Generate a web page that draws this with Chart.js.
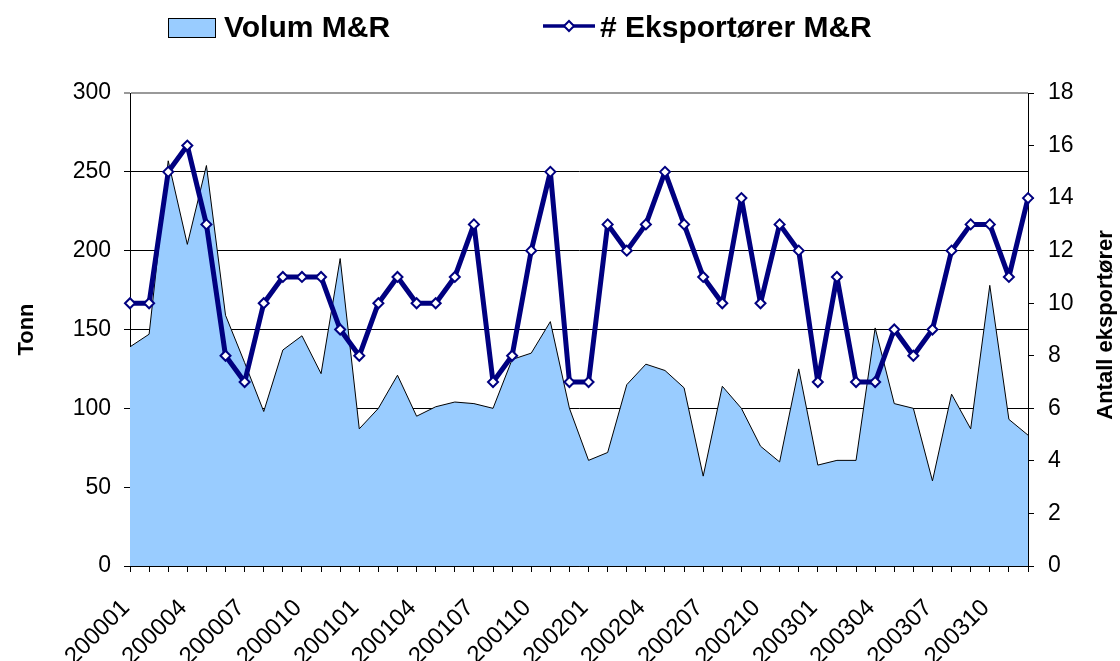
<!DOCTYPE html>
<html><head><meta charset="utf-8">
<script src="https://cdn.jsdelivr.net/npm/chart.js@4.4.1/dist/chart.umd.min.js"></script>
<style>html,body{margin:0;padding:0;background:#fff;overflow:hidden}canvas{display:block}</style>
</head><body>
<canvas id="c" width="1120" height="661"></canvas>
<script>
const categories = [
  '200001','200002','200003','200004','200005','200006','200007','200008','200009','200010','200011','200012',
  '200101','200102','200103','200104','200105','200106','200107','200108','200109','200110','200111','200112',
  '200201','200202','200203','200204','200205','200206','200207','200208','200209','200210','200211','200212',
  '200301','200302','200303','200304','200305','200306','200307','200308','200309','200310','200311','200312'
];
const volum = [
  139,147,257,204,254,159,129,98,137,146,122,195,
  87,100,121,95,101,104,103,100,131,135,155,100,
  67,72,115,128,124,113,57,114,100,76,66,125,
  64,67,67,151,103,100,54,109,87,178,93,83
];
const eksportorer = [
  10,10,15,16,13,8,7,10,11,11,11,9,
  8,10,11,10,10,11,13,7,8,12,15,7,
  7,13,12,13,15,13,11,10,14,10,13,12,
  7,11,7,7,9,8,9,12,13,13,11,14
];
const seriesNames = ['Volum M&R', '# Eksportører M&R'];
const axisTitles = ['Tonn', 'Antall eksportører'];

const FONT = '"Liberation Sans", Arial, sans-serif';

const legendPlugin = {
  id: 'customLegend',
  afterDraw(chart) {
    const ctx = chart.ctx;
    ctx.save();
    // area legend item
    ctx.fillStyle = '#99CCFF';
    ctx.fillRect(168.5, 18.5, 47, 19);
    ctx.strokeStyle = '#000';
    ctx.lineWidth = 1;
    ctx.strokeRect(168.5, 18.5, 47, 19);
    ctx.font = 'bold 30px ' + FONT;
    ctx.fillStyle = '#000';
    ctx.textAlign = 'left';
    ctx.textBaseline = 'alphabetic';
    ctx.fillText(chart.data.datasets[1].label, 224, 37);
    // line legend item
    ctx.strokeStyle = '#000080';
    ctx.lineWidth = 3.5;
    ctx.beginPath();
    ctx.moveTo(543, 26);
    ctx.lineTo(595, 26);
    ctx.stroke();
    ctx.beginPath();
    ctx.moveTo(564, 26); ctx.lineTo(569, 21); ctx.lineTo(574, 26); ctx.lineTo(569, 31); ctx.closePath();
    ctx.fillStyle = '#fff';
    ctx.fill();
    ctx.lineWidth = 2;
    ctx.stroke();
    ctx.fillStyle = '#000';
    ctx.fillText(chart.data.datasets[0].label, 600, 37);
    // right axis title (reads bottom to top)
    ctx.font = 'bold 22px ' + FONT;
    ctx.translate(1106, 325);
    ctx.rotate(-Math.PI / 2);
    ctx.textAlign = 'center';
    ctx.textBaseline = 'middle';
    ctx.fillText(axisTitles[1], 0, 0);
    ctx.restore();
  }
};

new Chart(document.getElementById('c'), {
  type: 'line',
  data: {
    labels: categories,
    datasets: [
      {
        label: seriesNames[1],
        data: eksportorer,
        yAxisID: 'y1',
        borderColor: '#000080',
        borderWidth: 5,
        borderJoinStyle: 'round',
        borderCapStyle: 'round',
        fill: false,
        tension: 0,
        pointStyle: 'rectRot',
        pointRadius: 5,
        pointBorderWidth: 2,
        pointBackgroundColor: '#ffffff',
        pointBorderColor: '#000080',
        order: 1
      },
      {
        label: seriesNames[0],
        data: volum,
        yAxisID: 'y',
        borderColor: '#000000',
        borderWidth: 1,
        backgroundColor: '#99CCFF',
        fill: 'origin',
        tension: 0,
        pointRadius: 0,
        order: 2
      }
    ]
  },
  options: {
    responsive: false,
    animation: false,
    devicePixelRatio: 1,
    layout: { padding: { top: 93, left: 0, right: 0, bottom: 0 } },
    plugins: { legend: { display: false }, tooltip: { enabled: false } },
    scales: {
      x: {
        offset: false,
        afterFit: s => { s.height = 95; },
        grid: { drawOnChartArea: false, drawTicks: true, tickLength: 6, color: '#000' },
        border: { color: '#000', width: 1 },
        ticks: {
          autoSkip: false,
          maxRotation: 45,
          minRotation: 45,
          padding: 22,
          labelOffset: -4,
          color: '#000',
          font: { family: FONT, size: 24 },
          callback: function (v, i) { return i % 3 === 0 ? this.getLabelForValue(v) : ''; }
        }
      },
      y: {
        position: 'left',
        min: 0, max: 300,
        afterFit: s => { s.width = 130; },
        grid: {
          drawTicks: true, tickLength: 6,
          color: c => (c.tick && c.tick.value === 300) ? '#999999' : '#000000',
          lineWidth: c => (c.tick && c.tick.value === 300) ? 2 : 1
        },
        border: { color: '#000', width: 1 },
        ticks: { stepSize: 50, padding: 13, color: '#000', font: { family: FONT, size: 23 } },
        title: { display: true, text: axisTitles[0], color: '#000', font: { family: FONT, size: 22, weight: 'bold' }, padding: { top: 14, bottom: 0 } }
      },
      y1: {
        position: 'right',
        min: 0, max: 18,
        afterFit: s => { s.width = 92; },
        grid: { drawOnChartArea: false, drawTicks: true, tickLength: 6, color: '#000' },
        border: { color: '#000', width: 1 },
        ticks: { stepSize: 2, padding: 14, color: '#000', font: { family: FONT, size: 23 } }
      }
    }
  },
  plugins: [legendPlugin]
});
</script>
</body></html>
